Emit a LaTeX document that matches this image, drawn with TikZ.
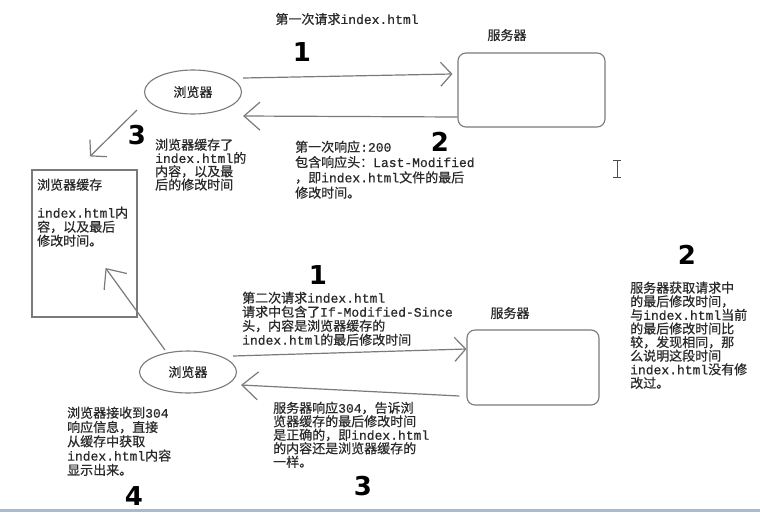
\documentclass[tikz,border=0pt]{standalone}
\usepackage{fontspec}
\setmainfont{Noto Sans CJK SC}[FakeBold=0.6]
\newfontfamily\monof{Liberation Mono}[FakeBold=0.6]
\newfontfamily\handf{DejaVu Sans}
\newcommand\Lm[1]{{\monof #1}}
\usetikzlibrary{arrows.meta,shapes.geometric}
\definecolor{linecol}{HTML}{7A7A7A}
\definecolor{txtcol}{HTML}{2A2A2A}
\definecolor{bandcol}{HTML}{A9BCCF}
\begin{document}
\begin{tikzpicture}[x=1pt,y=-1pt,
  conn/.style={draw=linecol,line width=1.2pt},
  tipA/.style={-{Straight Barb[length=11pt,width=24pt,line width=1.2pt]}},
  tipB/.style={-{Straight Barb[length=16pt,width=28pt,line width=1.2pt]}},
  browser/.style={ellipse,draw=linecol,line width=1.1pt,minimum width=97pt,minimum height=44pt,inner sep=0pt,font=\fontsize{13}{13}\selectfont,text=txtcol},
  server/.style={draw=linecol,line width=1.1pt,rounded corners=8pt,inner sep=0pt},
  cachebox/.style={draw=linecol,line width=1.1pt,inner sep=0pt},
  lbl/.style={font=\fontsize{13}{13}\selectfont,text=txtcol,inner sep=0pt},
  blk/.style={font=\fontsize{13}{#1}\selectfont,text=txtcol,inner sep=0pt,align=left,anchor=north west},
  hand/.style={font=\handf\bfseries\fontsize{26}{26}\selectfont,text=black,inner sep=0pt}
]
\useasboundingbox (0,0) rectangle (760,512);
\fill[white] (0,0) rectangle (760,512);
\fill[bandcol] (0,509) rectangle (760,512);

% shapes
\node[browser] (b1) at (193,92) {浏览器};
\node[server,minimum width=147pt,minimum height=74pt] (s1) at (531.5,90) {};
\node[lbl] (s1l) at (507,35) {服务器};
\node[cachebox,minimum width=105pt,minimum height=147pt] (c) at (84.5,243.5) {};
\node[browser,minimum height=42pt] (b2) at (188,372) {浏览器};
\node[server,minimum width=132pt,minimum height=75pt] (s2) at (533,367.5) {};
\node[lbl] (s2l) at (510,313) {服务器};

% connectors
\draw[conn,tipA] ([shift={(1,-14)}]b1.east) -- ([shift={(-5,-16)}]s1.west);
\draw[conn,tipB] ([shift={(0,27)}]s1.west) -- ([shift={(1,24)}]b1.east);
\draw[conn,tipA] ([shift={(-7,18)}]b1.west) -- ([shift={(5.5,-13)}]c.north);
\draw[conn,tipA] ([shift={(-4,-16)}]b2.east) -- ([shift={(0,-18.5)}]s2.west);
\draw[conn,tipB] ([shift={(-7,28.5)}]s2.west) -- ([shift={(4,13)}]b2.east);
\draw[conn,tipB] ([shift={(-23,-22)}]b2.center) -- ([shift={(-32,24.5)}]c.east);

% texts
\node[lbl] (t1) at (347,19) {第一次请求\Lm{index.html}};
\node[blk=13.3] (t3) at (155,138.5) {浏览器缓存了\\\Lm{index.html}的\\内容，以及最\\后的修改时间};
\node[blk=15.3] (t2) at (295,140.5) {第一次响应\Lm{:200}\\包含响应头：\Lm{Last-Modified}\\，即\Lm{index.html}文件的最后\\修改时间。};
\node[blk=14] (tc) at (37,178.5) {浏览器缓存\\[14pt]\Lm{index.html}内\\容，以及最后\\修改时间。};
\node[blk=14] (t4) at (242,291.5) {第二次请求\Lm{index.html}\\请求中包含了\Lm{If-Modified-Since}\\头，内容是浏览器缓存的\\\Lm{index.html}的最后修改时间};
\node[blk=13.6] (t5) at (630,281.5) {服务器获取请求中\\的最后修改时间，\\与\Lm{index.html}当前\\的最后修改时间比\\较，发现相同，那\\么说明这段时间\\\Lm{index.html}没有修\\改过。};
\node[blk=13.5] (t6) at (273,401.5) {服务器响应\Lm{304}，告诉浏\\览器缓存的最后修改时间\\是正确的，即\Lm{index.html}\\的内容还是浏览器缓存的\\一样。};
\node[blk=14.3] (t7) at (67,406.5) {浏览器接收到\Lm{304}\\响应信息，直接\\从缓存中获取\\\Lm{index.html}内容\\显示出来。};

% handwritten step numbers
\node[hand] (h1) at (302,52) {1};
\node[hand] (h2) at (440,142) {2};
\node[hand] (h3) at (137,135) {3};
\node[hand] (h4) at (318,275) {1};
\node[hand] (h5) at (687,255) {2};
\node[hand] (h6) at (363,486) {3};
\node[hand] (h7) at (134,496) {4};

% text cursor
\draw[black!70,line width=1pt] (617,160) -- (617,177);
\draw[black!70,line width=0.8pt] (613,160) -- (621,160) (613,177) -- (621,177);
\end{tikzpicture}
\end{document}
